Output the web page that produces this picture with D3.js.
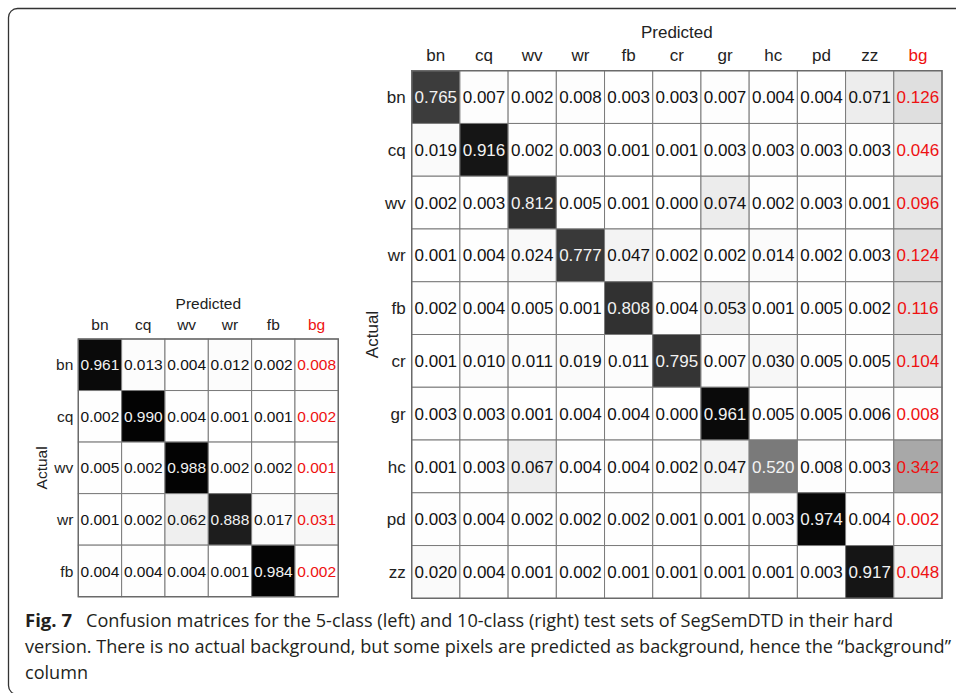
<!DOCTYPE html>
<html lang="en">
  <head>
    <meta charset="UTF-8" />
    <title>Confusion matrices SegSemDTD</title>
    <script src="https://cdn.jsdelivr.net/npm/d3@7"></script>
    <style>
      html, body { margin: 0; padding: 0; background: #fff; }
      svg { display: block; }
      .lbl { font-family: "Liberation Sans", Arial, sans-serif; fill: #222; }
      .cap { font-family: "Open Sans", sans-serif; fill: #231f20; }
    </style>
  </head>
  <body>
    <script>
      const width = 956;
      const height = 693;

      // 5-class matrix (left)
      const actual5 = ["bn", "cq", "wv", "wr", "fb"];
      const predicted5 = ["bn", "cq", "wv", "wr", "fb", "bg"];
      const values5 = [
        [0.961, 0.013, 0.004, 0.012, 0.002, 0.008],
        [0.002, 0.990, 0.004, 0.001, 0.001, 0.002],
        [0.005, 0.002, 0.988, 0.002, 0.002, 0.001],
        [0.001, 0.002, 0.062, 0.888, 0.017, 0.031],
        [0.004, 0.004, 0.004, 0.001, 0.984, 0.002],
      ];

      // 10-class matrix (right)
      const actual10 = ["bn", "cq", "wv", "wr", "fb", "cr", "gr", "hc", "pd", "zz"];
      const predicted10 = ["bn", "cq", "wv", "wr", "fb", "cr", "gr", "hc", "pd", "zz", "bg"];
      const values10 = [
        [0.765, 0.007, 0.002, 0.008, 0.003, 0.003, 0.007, 0.004, 0.004, 0.071, 0.126],
        [0.019, 0.916, 0.002, 0.003, 0.001, 0.001, 0.003, 0.003, 0.003, 0.003, 0.046],
        [0.002, 0.003, 0.812, 0.005, 0.001, 0.000, 0.074, 0.002, 0.003, 0.001, 0.096],
        [0.001, 0.004, 0.024, 0.777, 0.047, 0.002, 0.002, 0.014, 0.002, 0.003, 0.124],
        [0.002, 0.004, 0.005, 0.001, 0.808, 0.004, 0.053, 0.001, 0.005, 0.002, 0.116],
        [0.001, 0.010, 0.011, 0.019, 0.011, 0.795, 0.007, 0.030, 0.005, 0.005, 0.104],
        [0.003, 0.003, 0.001, 0.004, 0.004, 0.000, 0.961, 0.005, 0.005, 0.006, 0.008],
        [0.001, 0.003, 0.067, 0.004, 0.004, 0.002, 0.047, 0.520, 0.008, 0.003, 0.342],
        [0.003, 0.004, 0.002, 0.002, 0.002, 0.001, 0.001, 0.003, 0.974, 0.004, 0.002],
        [0.020, 0.004, 0.001, 0.002, 0.001, 0.001, 0.001, 0.001, 0.003, 0.917, 0.048],
      ];

      const captionLines = [
        "Confusion matrices for the 5-class (left) and 10-class (right) test sets of SegSemDTD in their hard",
        "version. There is no actual background, but some pixels are predicted as background, hence the \u201cbackground\u201d",
        "column",
      ];

      const svg = d3
        .select("body")
        .append("svg")
        .attr("width", width)
        .attr("height", height);

      // frame of the figure box (right side runs off the page)
      svg
        .append("rect")
        .attr("x", 8.5)
        .attr("y", 8.5)
        .attr("width", 1000)
        .attr("height", 686)
        .attr("rx", 9)
        .attr("fill", "none")
        .attr("stroke", "#333")
        .attr("stroke-width", 1.3);

      const shade = d3.scaleLinear().domain([0, 1]).range(["#ffffff", "#000000"]);

      function drawMatrix(rows, cols, values, box) {
        const x = d3.scaleBand().domain(cols).range([box.x0, box.x1]);
        const y = d3.scaleBand().domain(rows).range([box.y0, box.y1]);
        const g = svg.append("g");

        const cells = rows.flatMap((r, i) =>
          cols.map((c, j) => ({ r, c, v: values[i][j] }))
        );

        g.selectAll("rect.cell")
          .data(cells)
          .join("rect")
          .attr("class", "cell")
          .attr("x", (d) => x(d.c))
          .attr("y", (d) => y(d.r))
          .attr("width", x.bandwidth())
          .attr("height", y.bandwidth())
          .attr("fill", (d) => shade(d.v))
          .attr("stroke", "#7a7a7a")
          .attr("stroke-width", 1);

        g.selectAll("text.val")
          .data(cells)
          .join("text")
          .attr("class", "lbl val")
          .attr("x", (d) => x(d.c) + x.bandwidth() / 2)
          .attr("y", (d) => y(d.r) + y.bandwidth() / 2)
          .attr("dy", "0.36em")
          .attr("text-anchor", "middle")
          .attr("font-size", box.fs)
          .style("fill", (d) =>
            d.c === "bg" ? "#ee1111" : d.v > 0.5 ? "#f2f2f2" : "#111"
          )
          .text((d) => d3.format(".3f")(d.v));

        // outer border
        g.append("rect")
          .attr("x", box.x0)
          .attr("y", box.y0)
          .attr("width", box.x1 - box.x0)
          .attr("height", box.y1 - box.y0)
          .attr("fill", "none")
          .attr("stroke", "#6a6a6a")
          .attr("stroke-width", 1.4);

        // column labels
        g.selectAll("text.col")
          .data(cols)
          .join("text")
          .attr("class", "lbl col")
          .attr("x", (d) => x(d) + x.bandwidth() / 2)
          .attr("y", box.y0 - box.colGap)
          .attr("text-anchor", "middle")
          .attr("font-size", box.fs)
          .style("fill", (d) => (d === "bg" ? "#ee1111" : "#222"))
          .text((d) => d);

        // row labels
        g.selectAll("text.row")
          .data(rows)
          .join("text")
          .attr("class", "lbl row")
          .attr("x", box.x0 - box.rowGap)
          .attr("y", (d) => y(d) + y.bandwidth() / 2)
          .attr("dy", "0.36em")
          .attr("text-anchor", "end")
          .attr("font-size", box.fs)
          .text((d) => d);

        g.append("text")
          .attr("class", "lbl")
          .attr("x", (box.x0 + box.x1) / 2)
          .attr("y", box.predY)
          .attr("text-anchor", "middle")
          .attr("font-size", box.fs)
          .text("Predicted");

        const cy = (box.y0 + box.y1) / 2;
        g.append("text")
          .attr("class", "lbl")
          .attr("transform", `translate(${box.actX},${cy}) rotate(-90)`)
          .attr("text-anchor", "middle")
          .attr("font-size", box.fs)
          .text("Actual");
      }

      drawMatrix(actual5, predicted5, values5, {
        x0: 78.3, x1: 338.3, y0: 339, y1: 596.7,
        fs: 15.5, colGap: 9, rowGap: 5, predY: 309, actX: 47,
      });

      drawMatrix(actual10, predicted10, values10, {
        x0: 411.7, x1: 942, y0: 70.7, y1: 598.3,
        fs: 17, colGap: 10, rowGap: 6, predY: 37.5, actX: 377.5,
      });

      // caption
      const cap = svg.append("g");
      cap.append("text")
        .attr("class", "cap")
        .attr("x", 25)
        .attr("y", 627)
        .attr("font-size", 18)
        .attr("font-weight", "bold")
        .attr("textLength", 47)
        .attr("lengthAdjust", "spacingAndGlyphs")
        .text("Fig. 7");

      const capBoxes = [
        { x: 86, y: 627, w: 807 },
        { x: 25, y: 653, w: 926 },
        { x: 25, y: 679, w: 63 },
      ];
      cap.selectAll("text.line")
        .data(captionLines)
        .join("text")
        .attr("class", "cap line")
        .attr("x", (d, i) => capBoxes[i].x)
        .attr("y", (d, i) => capBoxes[i].y)
        .attr("font-size", 18)
        .attr("textLength", (d, i) => capBoxes[i].w)
        .attr("lengthAdjust", "spacingAndGlyphs")
        .text((d) => d);
    </script>
  </body>
</html>
